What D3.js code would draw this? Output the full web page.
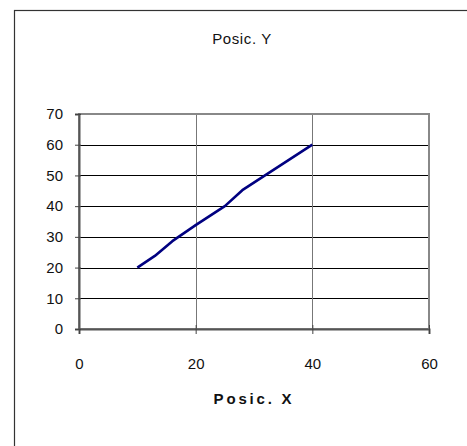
<!DOCTYPE html>
<html>
<head>
<meta charset="utf-8">
<script src="https://cdn.jsdelivr.net/npm/d3@7"></script>
<style>
  body { margin: 0; background: #fff; }
  svg { display: block; font-family: "Liberation Sans", Arial, sans-serif; }
</style>
</head>
<body>
<div id="graph1"></div>
<script>
// data
var posX = [10, 13, 16, 20, 25, 28, 40];
var posY = [20, 23.8, 28.6, 33.8, 40, 45.2, 60];
var xTicks = [0, 20, 40, 60];
var yTicks = [0, 10, 20, 30, 40, 50, 60, 70];

var W = 467, H = 446;
// plot area (note: "top" is a reserved window prop, so use a margin object)
var plot = {left: 79, right: 429, top: 114, bottom: 329};

var svg = d3.select("#graph1").append("svg")
    .attr("width", W)
    .attr("height", H);

// outer chart frame (right/bottom edges run off the page)
svg.append("rect")
    .attr("x", 14.5).attr("y", 10.5)
    .attr("width", 480).attr("height", 480)
    .attr("fill", "#fff")
    .attr("stroke", "#333")
    .attr("stroke-width", 1.2);

var x = d3.scaleLinear().domain([0, 60]).range([plot.left, plot.right]);
var y = d3.scaleLinear().domain([0, 70]).range([plot.bottom, plot.top]);

// horizontal gridlines
svg.append("g")
    .selectAll("line")
    .data(yTicks.slice(1, -1))
    .enter().append("line")
    .attr("x1", plot.left).attr("x2", plot.right)
    .attr("y1", function (d) { return Math.round(y(d)) + 0.5; })
    .attr("y2", function (d) { return Math.round(y(d)) + 0.5; })
    .attr("stroke", "#000")
    .attr("stroke-width", 1);

// vertical gridlines
svg.append("g")
    .selectAll("line")
    .data(xTicks.slice(1, -1))
    .enter().append("line")
    .attr("x1", function (d) { return Math.round(x(d)) + 0.5; })
    .attr("x2", function (d) { return Math.round(x(d)) + 0.5; })
    .attr("y1", plot.top).attr("y2", plot.bottom)
    .attr("stroke", "#777")
    .attr("stroke-width", 1);

// plot area border
svg.append("rect")
    .attr("x", plot.left).attr("y", plot.top)
    .attr("width", plot.right - plot.left).attr("height", plot.bottom - plot.top)
    .attr("fill", "none")
    .attr("stroke", "#888")
    .attr("stroke-width", 2);

// axes
var xAxis = svg.append("g")
    .attr("transform", "translate(0," + plot.bottom + ")")
    .call(d3.axisBottom(x).tickValues(xTicks).tickSize(5).tickPadding(24));
var yAxis = svg.append("g")
    .attr("transform", "translate(" + plot.left + ",0)")
    .call(d3.axisLeft(y).tickValues(yTicks).tickSize(4).tickPadding(12));

[xAxis, yAxis].forEach(function (g) {
    g.select(".domain").attr("stroke", "#555").attr("stroke-width", 2);
    g.selectAll(".tick line").attr("stroke", "#444");
    g.selectAll(".tick text")
        .attr("fill", "#111")
        .style("font-size", "15px")
        .style("font-family", "'Liberation Sans', Arial, sans-serif");
});
// ticks cross the axis a little
xAxis.selectAll(".tick line").attr("y1", -4);
yAxis.selectAll(".tick line").attr("x1", 2);

// series line
var pts = posX.map(function (d, i) { return [d, posY[i]]; });
svg.append("path")
    .datum(pts)
    .attr("fill", "none")
    .attr("stroke", "#000080")
    .attr("stroke-width", 2.6)
    .attr("stroke-linejoin", "round")
    .attr("d", d3.line()
        .x(function (d) { return x(d[0]); })
        .y(function (d) { return y(d[1]); }));

// title
svg.append("text")
    .attr("x", 242).attr("y", 44)
    .attr("text-anchor", "middle")
    .style("font-size", "15px")
    .style("letter-spacing", "0.6px")
    .attr("fill", "#111")
    .text("Posic. Y");

// x axis title
svg.append("text")
    .attr("x", 254).attr("y", 404)
    .attr("text-anchor", "middle")
    .style("font-size", "15px")
    .style("font-weight", "bold")
    .style("letter-spacing", "2.8px")
    .attr("fill", "#111")
    .text("Posic. X");
</script>
</body>
</html>
